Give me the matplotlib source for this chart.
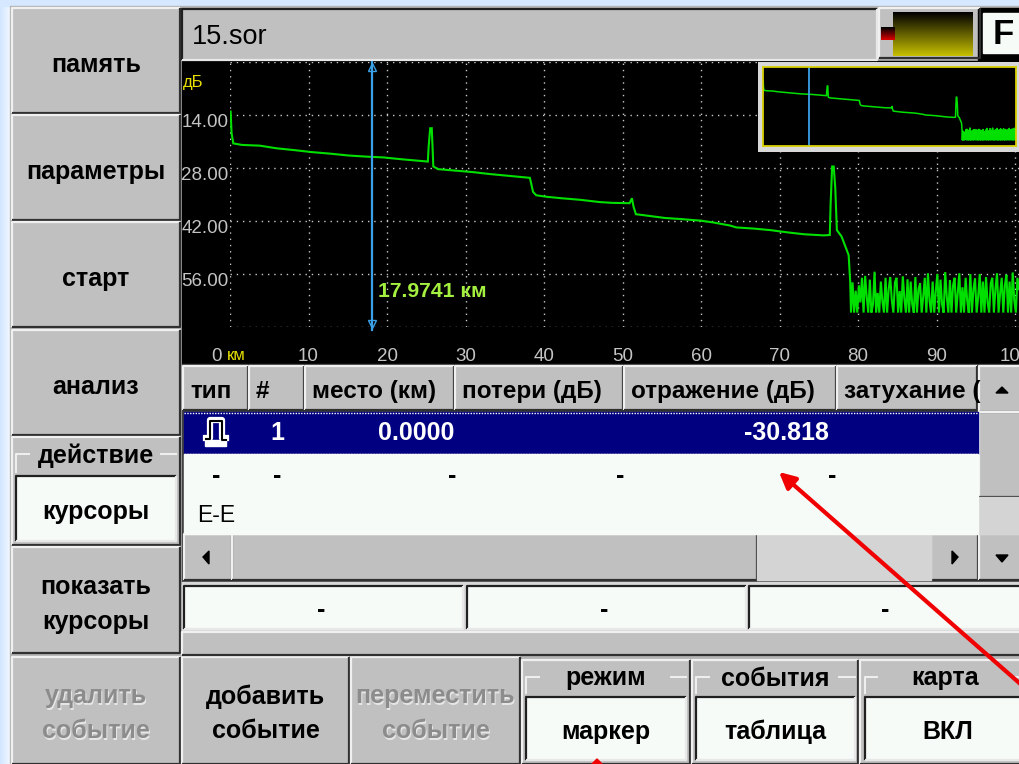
import numpy as np
import matplotlib
matplotlib.use("Agg")
import matplotlib.pyplot as plt
from matplotlib.patches import Rectangle, Polygon
from matplotlib.transforms import ScaledTranslation

# трасса рефлектометра: км / дБ
trace_km = [0.08, 0.2, 0.42, 1.5, 3.8, 5.95, 8.3, 10.4, 12.7, 15.1, 17.4, 19.5, 21.9, 24.2, 25.2, 25.3, 25.5, 25.7,
            25.8, 25.9, 26.5, 28.7, 31.0, 33.1, 35.2, 38.2, 38.6, 39.0, 40.3, 42.3, 44.6, 47.1, 48.6, 50.9, 51.2,
            51.4, 51.7, 53.5, 55.4, 57.5, 59.9, 61.6, 63.7, 64.5, 66.7, 68.8, 71.0, 73.1, 75.6, 76.4, 76.5, 76.7,
            76.9, 77.1, 77.3, 77.9, 78.8, 79.0, 79.1]
trace_db = [13.1, 18.8, 21.5, 21.9, 22.1, 22.8, 23.3, 23.8, 24.2, 24.7, 25.0, 25.2, 25.7, 26.1, 26.3, 22.4, 17.5, 17.5,
            22.4, 27.6, 28.3, 28.7, 29.1, 29.6, 30.0, 30.6, 34.3, 35.2, 35.6, 36.0, 36.4, 37.0, 37.2, 37.3, 36.0,
            38.2, 40.2, 40.7, 41.2, 41.5, 41.9, 42.4, 43.2, 43.7, 44.0, 44.4, 45.0, 45.5, 45.8, 45.7, 37.8, 27.6,
            27.6, 33.4, 44.4, 46.1, 51.0, 58.0, 66.2]
noise_km = [79.3, 79.5, 79.7, 79.9, 80.1, 80.3, 80.5, 80.7, 80.9, 81.1, 81.3, 81.5, 81.7, 81.9, 82.1, 82.3, 82.5, 82.7,
            82.9, 83.1, 83.3, 83.5, 83.7, 83.9, 84.1, 84.3, 84.5, 84.7, 84.9, 85.1, 85.3, 85.5, 85.7, 85.9, 86.1, 86.3,
            86.5, 86.7, 86.9, 87.1, 87.3, 87.5, 87.7, 87.9, 88.1, 88.3, 88.5, 88.7, 88.9, 89.1, 89.3, 89.5, 89.7, 89.9,
            90.1, 90.3, 90.5, 90.7, 90.9, 91.1, 91.3, 91.5, 91.7, 91.9, 92.1, 92.3, 92.5, 92.7, 92.9, 93.1, 93.3, 93.5,
            93.7, 93.9, 94.1, 94.3, 94.5, 94.7, 94.9, 95.1, 95.3, 95.5, 95.7, 95.9, 96.1, 96.3, 96.5, 96.7, 96.9, 97.1,
            97.3, 97.5, 97.7, 97.9, 98.1, 98.3, 98.5, 98.7, 98.9, 99.1, 99.3, 99.5, 99.7, 99.9, 100.1, 100.3, 100.5]
noise_db = [58.2, 66.2, 60.4, 66.2, 59.0, 63.5, 57.0, 66.2, 56.5, 62.0, 66.2, 57.5, 66.2, 64.0, 55.4, 66.2, 61.0, 66.2,
            58.0, 63.2, 66.2, 57.0, 66.2, 60.0, 56.8, 63.0, 66.2, 58.2, 57.0, 66.2, 60.5, 66.2, 56.6, 62.5, 66.2, 57.4,
            66.2, 58.0, 64.0, 66.2, 56.8, 66.2, 60.0, 58.5, 66.2, 62.0, 57.0, 66.2, 55.8, 63.0, 66.2, 58.0, 66.2, 60.5,
            56.0, 66.2, 57.5, 64.0, 66.2, 55.5, 62.0, 66.2, 57.6, 66.2, 59.0, 57.0, 66.2, 61.0, 55.8, 66.2, 59.5, 66.2,
            57.0, 63.0, 66.2, 56.0, 66.2, 60.0, 57.2, 66.2, 62.0, 56.0, 66.2, 58.0, 66.2, 56.8, 63.5, 66.2, 58.5, 57.0,
            66.2, 60.0, 55.8, 66.2, 61.0, 57.0, 66.2, 59.0, 56.2, 66.2, 58.0, 66.2, 55.6, 63.0, 66.2, 57.0, 60.0]
cursor_km = 17.9741
x_ticks = [0, 10, 20, 30, 40, 50, 60, 70, 80, 90, 100]
y_ticks = [0, 14, 28, 42, 56, 70]
y_labels = ["", "14.00", "28.00", "42.00", "56.00", ""]
table_head = ["тип", "#", "место (км)", "потери (дБ)", "отражение (дБ)", "затухание ("]
table_row = ["1", "0.0000", "-30.818"]

W, H = 1019, 764
GRAY = "#c0c0c0"
PAPER = "#f6fbf7"
FONT = "Liberation Sans"

fig = plt.figure(figsize=(W / 100, H / 100), dpi=100)
ui = fig.add_axes([0, 0, 1, 1])
ui.set_xlim(0, W)
ui.set_ylim(H, 0)
ui.axis("off")

# фон слайда
grad = np.linspace(1, 0, 64).reshape(1, -1)
bg = np.zeros((1, 64, 3))
bg[..., 0] = 0.82 + 0.18 * (1 - grad)
bg[..., 1] = 0.90 + 0.10 * (1 - grad)
bg[..., 2] = 1.0
ui.imshow(bg, extent=(0, 14, H, 0), aspect="auto", zorder=0)
ui.add_patch(Rectangle((0, 0), W, 6, color="#d6e8ff", zorder=0))
ui.add_patch(Rectangle((10, 6), W, H, color="#b4b4b4", zorder=0.5))
ui.set_xlim(0, W)
ui.set_ylim(H, 0)


def panel(x0, y0, x1, y1, face=GRAY, raised=True, z=1):
    # прямоугольник с объёмной рамкой
    light, dark = ("#f0f0f0", "#303030") if raised else ("#202020", "#e8e8e8")
    ui.add_patch(Rectangle((x0, y0), x1 - x0, y1 - y0, facecolor=face, edgecolor="none", zorder=z))
    ui.plot([x0, x0, x1], [y1, y0, y0], color=light, lw=1.6, zorder=z + 0.1, solid_capstyle="butt")
    ui.plot([x0, x1, x1], [y1, y1, y0], color=dark, lw=1.6, zorder=z + 0.1, solid_capstyle="butt")


def label(x, y, s, size=18, color="black", weight="bold", ha="center", z=5):
    ui.text(x, y + 1.5, s, fontsize=size, color=color, fontweight=weight, family=FONT, ha=ha, va="center", zorder=z)


def two_lines(x0, x1, y0, top, bottom, disabled=False):
    xc = (x0 + x1) / 2
    if disabled:
        for s, y in ((top, y0 + 38), (bottom, y0 + 73)):
            label(xc + 1, y + 1, s, color="#e6e6e6")
            label(xc, y, s, color="#8c8c8c", z=6)
    else:
        label(xc, y0 + 38, top)
        label(xc, y0 + 73, bottom)


def group(x0, y0, x1, y1, title, value, ix0, iy0, ix1):
    # рамка с заголовком и белым полем значения
    panel(x0, y0, x1, y1)
    ui.plot([ix0, ix0, x0 + 17], [iy0 - 4, y0 + 17, y0 + 17], color="#eeeeee", lw=1.5, zorder=2)
    ui.plot([x1 - 19, ix1], [y0 + 17, y0 + 17], color="#eeeeee", lw=1.5, zorder=2)
    label((x0 + x1) / 2, y0 + 17, title)
    panel(ix0, iy0, ix1, y1 - 4, face=PAPER, raised=False, z=2)
    label((ix0 + ix1) / 2, (iy0 + y1) / 2, value)


# кнопки слева
for (y0, y1, s) in [(8, 113, "память"), (115, 220, "параметры"), (222, 327, "старт"), (330, 435, "анализ")]:
    panel(12, y0, 180, y1)
    label(96, (y0 + y1) / 2 + 3, s)
group(12, 437, 180, 545, "действие", "курсоры", 16, 476, 176)
panel(12, 547, 180, 653)
two_lines(12, 180, 547, "показать", "курсоры")
panel(12, 657, 180, 764)
two_lines(12, 180, 657, "удалить", "событие", disabled=True)

# нижний ряд
panel(182, 657, 349, 764)
two_lines(182, 349, 657, "добавить", "событие")
panel(351, 657, 520, 764)
two_lines(351, 520, 657, "переместить", "событие", disabled=True)
group(522, 660, 690, 764, "режим", "маркер", 526, 697, 686)
group(692, 660, 858, 764, "события", "таблица", 696, 697, 855)
group(860, 660, 1030, 764, "карта", "ВКЛ", 865, 697, 1030)

# заголовок
panel(182, 9, 877, 60, raised=False)
label(192, 36, "15.sor", size=19.5, weight="normal", ha="left")
panel(879, 8, 980, 58)
ygrad = np.linspace(0, 1, 64).reshape(-1, 1, 1) * np.array([0.78, 0.75, 0.0]).reshape(1, 1, 3)
ui.imshow(ygrad, extent=(893, 973, 56, 12), aspect="auto", zorder=2)
ui.set_xlim(0, W)
ui.set_ylim(H, 0)
rgrad = np.linspace(0, 1, 16).reshape(-1, 1, 1) * np.array([0.85, 0.0, 0.0]).reshape(1, 1, 3)
ui.imshow(rgrad, extent=(881, 895, 40, 27), aspect="auto", zorder=3)
ui.set_xlim(0, W)
ui.set_ylim(H, 0)
ui.add_patch(Rectangle((978, 8), 45, 52, color="black", zorder=1))
ui.add_patch(Rectangle((983, 13), 40, 40, color=PAPER, zorder=1.5))
label(1003, 33, "F", size=25)

# чёрная область графика
ui.add_patch(Rectangle((182, 61), W - 182, 303, color="black", zorder=1))


def px_axes(x0, y0, x1, y1):
    return fig.add_axes([x0 / W, 1 - y1 / H, (x1 - x0) / W, (y1 - y0) / H])


ax = px_axes(230, 62, 1019, 327)
ax.set_facecolor("black")
ax.patch.set_alpha(0)
ax.set_xlim(0, 100.5)
ax.set_ylim(70, 0)
ax.set_xticks(x_ticks)
ax.set_yticks(y_ticks)
ax.set_xticklabels([str(t) for t in x_ticks])
ax.set_yticklabels(y_labels)
ax.tick_params(length=0, colors="#c4c4c4", labelsize=13.5)
ax.tick_params(axis="x", pad=15)
ax.tick_params(axis="y", pad=1)
for t in ax.get_xticklabels() + ax.get_yticklabels():
    t.set_family(FONT)
    t.set_clip_on(False)
# подписи оси дБ чуть ниже линий сетки, "0" левее оси
for t in ax.get_yticklabels():
    t.set_transform(t.get_transform() + ScaledTranslation(0, -0.055, fig.dpi_scale_trans))
first = ax.get_xticklabels()[0]
first.set_transform(first.get_transform() + ScaledTranslation(-0.14, 0, fig.dpi_scale_trans))
ax.grid(True, color="#c8c8c8", linestyle=(0, (1, 3.5)), linewidth=1)
for s in ax.spines.values():
    s.set_visible(False)
ax.plot(trace_km + noise_km, trace_db + noise_db, color="#00e000", lw=1.5, solid_joinstyle="miter", zorder=3)
ax.plot([cursor_km + 0.12] * 2, [0, 70.8], color="#3aa0e8", lw=1.6, clip_on=False, zorder=4)
ax.plot([cursor_km + 0.12], [1.3], marker="^", ms=6, mfc="none", mec="#3aa0e8", clip_on=False, zorder=4)
ax.plot([cursor_km + 0.12], [69.2], marker="v", ms=6, mfc="none", mec="#3aa0e8", clip_on=False, zorder=4)
ax.text(18.8, 60.6, f"{cursor_km:.4f} км", color="#a4f040", fontsize=15.2, fontweight="bold", family=FONT, va="center")
ax.text(-0.4, 77.4, "км", color="#e8e000", fontsize=12, family=FONT, ha="left", va="center", clip_on=False)
ax.text(-6.0, 5.5, "дБ", color="#e8e000", fontsize=12, family=FONT, ha="left", va="center", clip_on=False)

# миникарта
frame = px_axes(758, 62, 1019, 152)
frame.set_xticks([])
frame.set_yticks([])
frame.set_facecolor("#d8d8d8")
for s in frame.spines.values():
    s.set_visible(False)
inset = px_axes(763, 67, 1016, 146)
inset.set_facecolor("black")
inset.set_xlim(0, 100.4)
inset.set_ylim(71.6, 0.5)
inset.set_xticks([])
inset.set_yticks([])
for s in inset.spines.values():
    s.set_color("#d8d000")
    s.set_linewidth(1.3)
inset.plot(trace_km + noise_km, trace_db + noise_db, color="#00e000", lw=1.1)
inset.axvline(cursor_km + 0.2, color="#3aa0e8", lw=1.3)

# таблица
ui.add_patch(Rectangle((182, 364), W - 182, 220, color="#404040", zorder=1))
col_edges = [183, 249, 305, 455, 624, 837, 978]
for i, s in enumerate(table_head):
    panel(col_edges[i], 366, col_edges[i + 1] - 1, 410)
    label(col_edges[i] + 7, 390, s, size=17.5, ha="left", z=3)
ui.add_patch(Rectangle((184, 412), 794, 42, color="#000080", zorder=2))
ui.add_patch(Rectangle((184, 454), 794, 80, color=PAPER, zorder=2))
ui.plot([184, 978], [412.5, 412.5], color="white", lw=1, linestyle=(0, (1, 1)), zorder=3)
ui.plot([184, 978], [453.5, 453.5], color="white", lw=1, linestyle=(0, (1, 1)), zorder=3)
# значок отражения
ui.add_patch(Rectangle((205, 440), 21, 6, color="white", zorder=3))
ui.plot([206, 210, 210, 222, 222, 226], [438, 438, 420, 420, 438, 438], color="white", lw=4.5, zorder=3)
ui.plot([206, 210, 210, 222, 222, 226], [439, 439, 421, 421, 440, 440], color="black", lw=1.5, zorder=4)
label(277, 431, table_row[0], color="white")
label(454, 431, table_row[1], color="white", ha="right")
label(829, 431, table_row[2], color="white", ha="right")
for x, s in [(216, "-"), (277, "-"), (452, "-"), (620, "-"), (832, "-")]:
    label(x, 475, s)
label(197, 514, "E-E", size=16.5, weight="normal", ha="left")

# прокрутка
panel(184, 534, 232, 580)
panel(232, 534, 757, 580)
ui.add_patch(Rectangle((757, 533), 174, 47, color="#d4d4d4", zorder=1.5))
panel(931, 534, 978, 580)
panel(979, 366, 1025, 412)
panel(979, 412, 1025, 497)
ui.add_patch(Rectangle((979, 497), 40, 37, color="#d4d4d4", zorder=1.5))
panel(979, 534, 1025, 580)
ui.add_patch(Polygon([(203, 557), (209, 551), (209, 564)], color="black", zorder=3))
ui.add_patch(Polygon([(958, 557), (952, 551), (952, 564)], color="black", zorder=3))
ui.add_patch(Polygon([(1002, 387), (996, 393), (1008, 393)], color="black", zorder=3))
ui.add_patch(Polygon([(1002, 562), (996, 555), (1008, 555)], color="black", zorder=3))

# поля курсоров
ui.add_patch(Rectangle((182, 582), W - 182, 50, color="#d8d8d8", zorder=1))
for x0, x1 in [(184, 463), (467, 746), (749, 1025)]:
    panel(x0, 586, x1, 629, face=PAPER, raised=False)
    label((x0 + x1) / 2 - 2, 609, "-")
panel(182, 632, 1025, 655)

# красные стрелки поверх
ui.annotate("", xy=(779, 472), xytext=(1025, 688), zorder=10,
            arrowprops=dict(arrowstyle="-|>", color="#f00000", lw=3, mutation_scale=24, shrinkA=0, shrinkB=0))
ui.add_patch(Polygon([(597, 759), (590, 766), (604, 766)], color="#f00000", zorder=10))

fig.savefig("out.png", dpi=100)
